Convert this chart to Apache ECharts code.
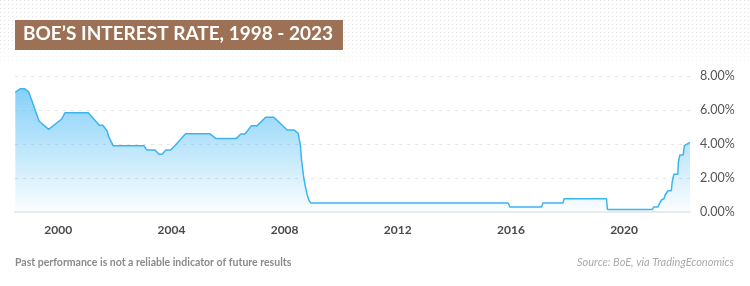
<!DOCTYPE html>
<html>
<head>
<meta charset="utf-8">
<script src="https://cdn.jsdelivr.net/npm/echarts@6/dist/echarts.min.js"></script>
<style>
html,body{margin:0;padding:0;background:#fff;}
#c{width:750px;height:286px;}
</style>
</head>
<body>
<div id="c"></div>
<script>
// Decimal year positions
var years = [1998.48,1998.65,1998.82,1998.96,1999.32,1999.66,2000.12,2000.24,2001.06,2001.45,2001.57,2001.73,2001.78,2001.94,2003.03,2003.12,2003.42,2003.56,2003.67,2003.80,2003.97,2004.12,2004.50,2005.36,2005.57,2006.30,2006.45,2006.60,2006.83,2007.03,2007.33,2007.62,2008.09,2008.34,2008.48,2008.56,2008.60,2008.64,2008.68,2008.74,2008.80,2008.86,2008.92,2015.90,2015.96,2017.08,2017.13,2017.84,2017.88,2019.38,2019.41,2021.00,2021.05,2021.20,2021.26,2021.33,2021.41,2021.45,2021.55,2021.67,2021.70,2021.76,2021.90,2021.92,2021.97,2022.09,2022.13,2022.19,2022.33];
// Bank Rate (%)
var rates = [7.04,7.25,7.25,7.05,5.35,4.86,5.47,5.84,5.84,5.10,5.10,4.76,4.43,3.90,3.90,3.65,3.65,3.39,3.39,3.65,3.65,3.90,4.60,4.60,4.33,4.33,4.59,4.59,5.08,5.08,5.57,5.57,4.82,4.82,4.63,3.90,3.06,2.50,1.98,1.45,1.00,0.70,0.53,0.53,0.30,0.30,0.53,0.53,0.78,0.78,0.15,0.15,0.30,0.30,0.53,0.72,0.78,1.00,1.25,1.25,1.75,2.22,2.22,2.96,3.35,3.35,3.90,4.00,4.10];
var xTickLabels = [2000,2004,2008,2012,2016,2020];
var yTicks = [0,2,4,6,8];

var data = years.map(function(y,i){return [y, rates[i]];});

var chart = echarts.init(document.getElementById('c'), null, {renderer:'canvas'});

// dotted pattern for the header band
var pc = document.createElement('canvas');
pc.width = 4; pc.height = 4;
var pctx = pc.getContext('2d');
pctx.fillStyle = '#e4e4e4';
pctx.fillRect(0,0,1,1);

chart.setOption({
  backgroundColor:'#fff',
  animation:false,
  graphic:[
    {type:'rect', z:-10, shape:{x:0,y:0,width:750,height:68}, style:{fill:{image:pc, repeat:'repeat'}}},
    {type:'rect', z:-9, shape:{x:0,y:40,width:750,height:30}, style:{fill:new echarts.graphic.LinearGradient(0,0,0,1,[{offset:0,color:'rgba(255,255,255,0)'},{offset:1,color:'rgba(255,255,255,1)'}])}},
    {type:'rect', z:5, shape:{x:15,y:20,width:328,height:30}, style:{fill:'#9d7156'}},
    {type:'text', z:6, left:23, top:24, style:{text:'BOE\u2019S INTEREST RATE, 1998 - 2023', fill:'#fff', font:'bold 19px Lato, "Open Sans", sans-serif'}},
    {type:'text', z:6, left:15, top:257, style:{text:'Past performance is not a reliable indicator of future results', fill:'#8a8a8a', font:'bold 10.5px Lato, sans-serif'}},
    {type:'text', z:6, right:16, top:257, style:{text:'Source: BoE, via TradingEconomics', fill:'#aaaaaa', font:'italic 11px Lato, sans-serif'}}
  ],
  grid:{left:15, right:60, top:76, bottom:74},
  xAxis:{
    type:'value', min:1998.47, max:2022.33,
    axisLine:{show:true, lineStyle:{color:'#ebebeb', width:2}},
    axisTick:{show:false},
    splitLine:{show:false},
    axisLabel:{customValues:xTickLabels, color:'#4a4a4a', fontSize:12, fontWeight:'bold', fontFamily:'Lato, sans-serif', margin:12, formatter:function(v){return String(Math.round(v));}}
  },
  yAxis:{
    type:'value', position:'right', min:0, max:8, interval:2,
    axisLine:{show:false}, axisTick:{show:false},
    splitLine:{show:true, lineStyle:{color:'#e3e3e3', type:[3,5], width:1}},
    axisLabel:{color:'#555', fontSize:12.5, fontFamily:'Lato, sans-serif', margin:10, formatter:function(v){return v.toFixed(2)+'%';}}
  },
  series:[{
    type:'line', data:data, symbol:'none', smooth:false,
    lineStyle:{color:'#3bb4f2', width:1.5},
    areaStyle:{color:new echarts.graphic.LinearGradient(0,0,0,1,[{offset:0,color:'rgba(80,188,245,1)'},{offset:1,color:'rgba(80,188,245,0.03)'}])}
  }]
});
</script>
</body>
</html>
